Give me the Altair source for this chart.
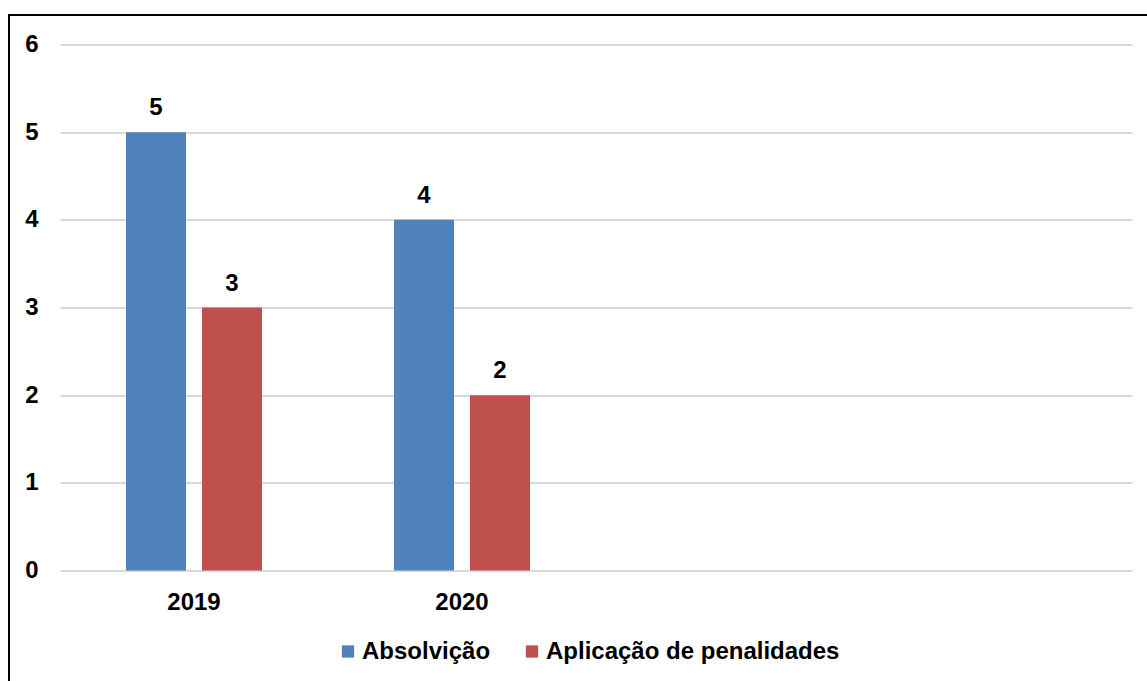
import altair as alt
import pandas as pd

years = ["2019", "2020"]
x_domain = ["2019", "2020", " ", "  "]
series = ["Absolvição", "Aplicação de penalidades"]
absolvicao = [5, 4]
penalidades = [3, 2]
colors = ["#4f81bd", "#c0504d"]

rows = []
for i, y in enumerate(years):
    rows.append({"ano": y, "serie": series[0], "valor": absolvicao[i]})
    rows.append({"ano": y, "serie": series[1], "valor": penalidades[i]})
df = pd.DataFrame(rows)

FONT = "Liberation Sans"
FS = 24

x_enc = alt.X("ano:N", scale=alt.Scale(domain=x_domain, paddingInner=0, paddingOuter=0),
              axis=alt.Axis(title=None, labelAngle=0, domain=False, ticks=False, grid=False,
                            labelPadding=20, labelFontSize=FS, labelFontWeight="bold",
                            labelColor="black", labelFont=FONT))
xoff = alt.XOffset("serie:N", scale=alt.Scale(domain=series, paddingInner=0.2105, paddingOuter=0.868))
y_enc = alt.Y("valor:Q", scale=alt.Scale(domain=[0, 6]),
              axis=alt.Axis(title=None, values=[0, 1, 2, 3, 4, 5, 6], domain=False, ticks=False,
                            labelPadding=22, labelFontSize=FS, labelFontWeight="bold",
                            labelColor="black", labelFont=FONT, gridColor="#d9d9d9", gridWidth=2))

base = alt.Chart(df).encode(x=x_enc, xOffset=xoff, y=y_enc)

bars = base.mark_bar().encode(
    color=alt.Color("serie:N", scale=alt.Scale(domain=series, range=colors),
                    legend=alt.Legend(title=None, orient="none", legendX=276, legendY=595,
                                      direction="horizontal", symbolType="square",
                                      symbolSize=150, symbolStrokeWidth=0, columnPadding=29,
                                      labelFontSize=FS, labelFontWeight="bold", labelFont=FONT,
                                      labelColor="black", symbolOpacity=1, labelLimit=0,
                                      labelOffset=2))
)

labels = base.mark_text(baseline="bottom", dy=-12, fontSize=FS, fontWeight="bold",
                        font=FONT, color="black").encode(text="valor:Q")

border = alt.Chart(pd.DataFrame({"a": [0]})).mark_rect(
    fill=None, stroke="black", strokeWidth=2, clip=False
).encode(x=alt.value(-51), x2=alt.value(1200), y=alt.value(-29.5), y2=alt.value(700))

chart = alt.layer(bars, labels, border).properties(
    width=1072, height=526,
    background="white",
    autosize=alt.AutoSizeParams(type="none"),
    padding={"left": 60, "top": 44.5, "right": 15, "bottom": 110.5},
).configure_view(stroke=None)

chart.save("out.html", embed_options={"renderer": "svg", "actions": False})
